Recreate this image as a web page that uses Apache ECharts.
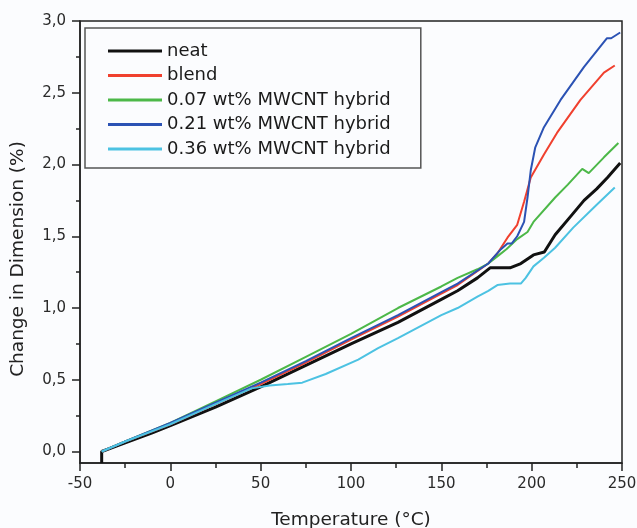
<!DOCTYPE html>
<html>
<head>
<meta charset="utf-8">
<script src="https://cdn.jsdelivr.net/npm/echarts@6/dist/echarts.min.js"></script>
<style>
html, body { margin: 0; padding: 0; background: #fbfcfe; }
#chart { width: 637px; height: 528px; }
</style>
</head>
<body>
<div id="chart"></div>
<script>
// Series names as in the legend
const seriesNames = ['neat', 'blend', '0.07 wt% MWCNT hybrid', '0.21 wt% MWCNT hybrid', '0.36 wt% MWCNT hybrid'];
const seriesColors = ['#111111', '#f0402e', '#4cb848', '#2b52b4', '#4cc2e2'];

// [temperature (°C), change in dimension (%)]
const neat = [[-38, -0.08], [-38, 0], [-25, 0.06], [-10, 0.13], [0, 0.18], [25, 0.31], [50, 0.45], [75, 0.60],
    [100, 0.75], [126, 0.90], [150, 1.06], [159, 1.12], [170, 1.21], [177, 1.28], [181, 1.28], [188, 1.28],
    [194, 1.31], [201, 1.37], [207, 1.39], [213, 1.51], [221, 1.63], [229, 1.75], [236, 1.83], [242, 1.91], [249, 2.01]];
const blend = [[-38, 0], [-25, 0.07], [0, 0.19], [25, 0.33], [50, 0.47], [75, 0.62], [100, 0.78], [126, 0.94],
    [150, 1.10], [159, 1.16], [176, 1.31], [181, 1.38], [186.6, 1.49], [192, 1.58], [195.8, 1.74], [199.5, 1.91],
    [206.8, 2.07], [214, 2.22], [227, 2.45], [240, 2.64], [246, 2.69]];
const hybrid007 = [[-38, 0], [-25, 0.07], [0, 0.20], [25, 0.35], [50, 0.50], [75, 0.66], [100, 0.82], [126, 1.00],
    [150, 1.15], [159, 1.21], [170, 1.27], [176, 1.31], [181, 1.36], [186, 1.41], [192, 1.48], [197.7, 1.53],
    [201, 1.60], [213, 1.77], [220, 1.86], [228, 1.97], [231.6, 1.94], [240, 2.05], [248, 2.15]];
const hybrid021 = [[-38, 0], [-25, 0.07], [0, 0.20], [25, 0.34], [50, 0.48], [75, 0.63], [100, 0.79], [126, 0.95],
    [150, 1.11], [159, 1.17], [176, 1.31], [183, 1.41], [186.6, 1.45], [189, 1.45], [192, 1.50], [195.8, 1.60],
    [197.7, 1.77], [199.5, 1.96], [202, 2.12], [206.8, 2.26], [216, 2.45], [229, 2.68], [241.7, 2.88], [244, 2.88], [249, 2.92]];
const hybrid036 = [[-38, 0], [-25, 0.07], [0, 0.19], [25, 0.33], [45, 0.44], [55, 0.46], [65, 0.47], [73, 0.48],
    [86, 0.54], [104, 0.64], [115, 0.72], [126, 0.79], [150, 0.95], [159, 1.00], [170, 1.08], [176, 1.12],
    [181, 1.16], [188, 1.17], [194, 1.17], [196.7, 1.21], [201, 1.29], [206.8, 1.35], [213, 1.42], [223, 1.56],
    [236, 1.72], [246, 1.84]];

// axis ticks
const yMajorTicks = [0, 0.5, 1.0, 1.5, 2.0, 2.5, 3.0];
const yMinorTicks = [0.25, 0.75, 1.25, 1.75, 2.25, 2.75];

const allData = [neat, blend, hybrid007, hybrid021, hybrid036];
const fontFam = 'DejaVu Sans';

let chart = echarts.init(document.getElementById('chart'));

let series = allData.map((d, i) => ({
    name: seriesNames[i],
    type: 'line',
    data: d,
    symbol: 'none',
    lineStyle: { color: seriesColors[i], width: i === 0 ? 3 : 2 },
    itemStyle: { color: seriesColors[i] }
}));

chart.setOption({
    backgroundColor: '#fbfcfe',
    animation: false,
    grid: {
        left: 80, right: 15, top: 21, bottom: 65,
        outerBoundsMode: 'none',
        show: true,
        borderColor: '#222',
        borderWidth: 1.5
    },
    legend: {
        orient: 'vertical',
        left: 85,
        top: 28,
        padding: [14, 30, 10, 23],
        itemWidth: 54,
        itemHeight: 3,
        itemGap: 6.5,
        icon: 'rect',
        borderColor: '#555',
        borderWidth: 1.5,
        textStyle: { fontFamily: fontFam, fontSize: 18, color: '#1a1a1a' },
        data: seriesNames
    },
    xAxis: {
        type: 'value',
        min: -50,
        max: 250,
        interval: 50,
        name: 'Temperature (°C)',
        nameLocation: 'middle',
        nameGap: 48,
        nameTextStyle: { fontFamily: fontFam, fontSize: 18.5, color: '#222' },
        axisLine: { onZero: false, lineStyle: { color: '#222', width: 1.5 } },
        axisTick: { length: 8, lineStyle: { color: '#222', width: 1.5 } },
        minorTick: { show: true, splitNumber: 2, length: 5, lineStyle: { color: '#222', width: 1.5 } },
        axisLabel: { fontFamily: fontFam, fontSize: 15, color: '#2a2a2a', margin: 14 },
        splitLine: { show: false }
    },
    yAxis: [{
        type: 'value',
        min: -0.08,
        max: 3.0,
        name: 'Change in Dimension (%)',
        nameLocation: 'middle',
        nameGap: 52,
        nameTextStyle: { fontFamily: fontFam, fontSize: 18.5, color: '#222', padding: [0, 34, 0, 0] },
        axisLine: { show: true, onZero: false, lineStyle: { color: '#222', width: 1.5 } },
        axisTick: { show: true, length: 8, customValues: yMajorTicks, lineStyle: { color: '#222', width: 1.5 } },
        axisLabel: {
            fontFamily: fontFam, fontSize: 15, color: '#2a2a2a', margin: 14,
            customValues: yMajorTicks,
            formatter: v => v.toFixed(1).replace('.', ',')
        },
        splitLine: { show: false }
    }, {
        type: 'value',
        min: -0.08,
        max: 3.0,
        position: 'left',
        axisLine: { show: false, onZero: false },
        axisTick: { show: true, length: 4, customValues: yMinorTicks, lineStyle: { color: '#222', width: 1.5 } },
        axisLabel: { show: false },
        splitLine: { show: false }
    }],
    series: series
});
</script>
</body>
</html>
